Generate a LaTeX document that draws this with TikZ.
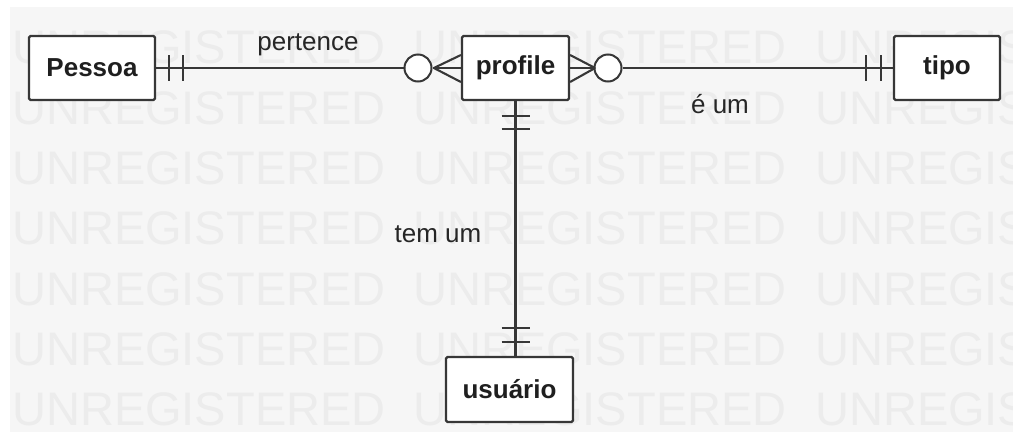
\documentclass[tikz,border=0pt]{standalone}
\usepackage{fontspec}
\setmainfont{Liberation Sans}
\usetikzlibrary{calc}
\definecolor{bgc}{RGB}{246,246,246}
\definecolor{wmc}{RGB}{236,236,236}
\definecolor{lnc}{RGB}{55,55,55}
\tikzset{
  ent/.style={draw=lnc, line width=2.2pt, fill=white, rounded corners=1.5pt, inner sep=0pt,
              font=\fontsize{26}{30}\selectfont\bfseries, text=black!88},
  ring/.style={circle, draw=lnc, line width=2pt, fill=white, minimum size=27pt, inner sep=0pt},
  conn/.style={draw=lnc, line width=2.1pt},
  lbl/.style={font=\fontsize{26}{30}\selectfont, text=black!85, inner sep=0pt},
  wm/.style={font=\fontsize{47}{50}\selectfont, text=wmc, anchor=west, inner sep=0pt}
}
\begin{document}
\begin{tikzpicture}[x=1pt,y=-1pt]
\useasboundingbox (0,0) rectangle (1013,437);
\fill[bgc] (10,7) rectangle (1013,432);
% watermark
\foreach \yy [count=\i] in {47,108,168,228,289,349,409}{
  \foreach \xx [count=\j] in {12,413,815}{
    \node[wm] (w\i\j) at (\xx,\yy) {UNREGISTERED};
  }
}
% entities
\node[ent, minimum width=126pt, minimum height=64pt] (pessoa) at (92,68) {Pessoa};
\node[ent, minimum width=107pt, minimum height=64pt] (profile) at (515.5,68) {profile};
\node[ent, minimum width=106pt, minimum height=64pt] (tipo) at (947,68) {tipo};
\node[ent, minimum width=127pt, minimum height=65pt] (usuario) at (509.5,389.5) {usuário};
% rings
\node[ring] (lc) at (418,68) {};
\node[ring] (rc) at (608,68) {};
% connectors
\draw[conn] (pessoa.east) -- (lc.west);
\draw[conn] (lc.east) -- (profile.west);
\draw[conn] (profile.east) -- (rc.west);
\draw[conn] (rc.east) -- (tipo.west);
\coordinate (vtop) at (profile.south);
\draw[conn] (vtop) -- (vtop |- usuario.north);
% pessoa bars
\draw[conn] ($(pessoa.east)+(13,-13)$) -- ++(0,26);
\draw[conn] ($(pessoa.east)+(27,-13)$) -- ++(0,26);
% tipo bars
\draw[conn] ($(tipo.west)+(-27,-13)$) -- ++(0,26);
\draw[conn] ($(tipo.west)+(-12,-13)$) -- ++(0,26);
% crow's feet
\coordinate (lf) at ($(profile.west)+(-27,0)$);
\draw[conn] (lf) -- ($(profile.west)+(0,-13)$);
\draw[conn] (lf) -- ($(profile.west)+(0,14)$);
\coordinate (rf) at ($(profile.east)+(25,0)$);
\draw[conn] (rf) -- ($(profile.east)+(0,-13)$);
\draw[conn] (rf) -- ($(profile.east)+(0,14)$);
% vertical bars
\draw[conn] ($(vtop)+(-14,15)$) -- ++(28,0);
\draw[conn] ($(vtop)+(-14,28)$) -- ++(28,0);
\coordinate (vbot) at (vtop |- usuario.north);
\draw[conn] ($(vbot)+(-14,-28)$) -- ++(28,0);
\draw[conn] ($(vbot)+(-14,-14)$) -- ++(28,0);
% labels
\node[lbl] (l1) at (308,45) {pertence};
\node[lbl] (l2) at (720,104) {é um};
\node[lbl] (l3) at (438,234) {tem um};
\end{tikzpicture}
\end{document}
